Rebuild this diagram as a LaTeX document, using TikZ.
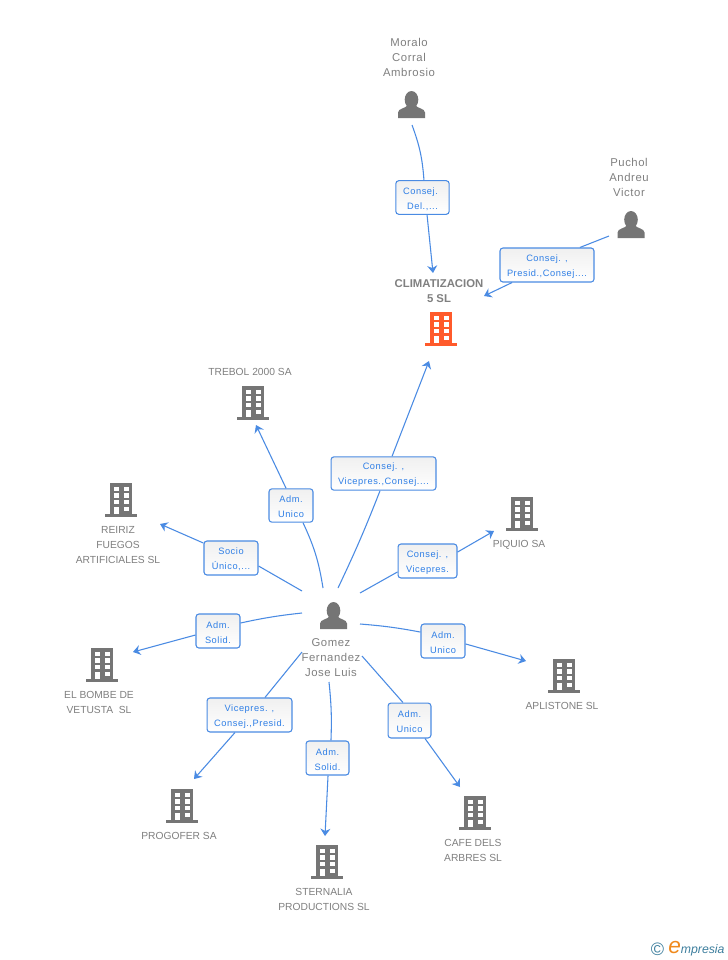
\documentclass[tikz,border=0pt]{standalone}
\usepackage{fontspec}
\setmainfont{Liberation Sans}
\newfontfamily\lblfont[LetterSpace=6]{Liberation Sans}
\newfontfamily\persfont[LetterSpace=5]{Liberation Sans}
\usetikzlibrary{arrows.meta}
\definecolor{edgeblue}{HTML}{4A8BE3}
\definecolor{lbltext}{HTML}{2F7FE6}
\definecolor{ent}{HTML}{808080}
\definecolor{icon}{HTML}{757575}
\definecolor{hot}{HTML}{FF5A2B}
\definecolor{logoblue}{HTML}{3E7F9E}
\definecolor{logoorange}{HTML}{F08A1D}
\tikzset{
  x=0.75pt,y=-0.75pt,
  lbl/.style={draw=edgeblue,line width=0.8pt,rounded corners=2.2pt,top color=black!6,bottom color=white,
    text=lbltext,font=\lblfont\fontsize{6.95}{11.25}\selectfont,align=center,inner sep=0pt,
    text height=18.6pt},
  enttext/.style={text=ent,font=\fontsize{7.7}{11.25}\selectfont,align=center,inner sep=0pt},
  perstext/.style={text=ent,font=\persfont\fontsize{8.5}{11.25}\selectfont,align=center,inner sep=0pt},
  edge/.style={draw=edgeblue,line width=0.8pt},
  arr/.style={edge,-{Stealth[length=5.5pt,width=7.5pt,inset=1.8pt]}},
  pics/bldg/.style={code={
    \fill[#1] (-11,0) rectangle (11,31);
    \fill[#1] (-16,31) rectangle (16,33.6);
    \foreach \yy in {3.7,10.3,17,23.7}{
      \fill[white] (-7.3,\yy) rectangle +(5,4.2);
      \fill[white] (2.7,\yy) rectangle +(5,4.2);}
    \fill[white] (-7.3,23.7) rectangle +(5,7.3);
  }},
  pics/person/.style={code={
    \fill[icon] (0,8.7) ellipse (6.8 and 8.7);
    \fill[icon] (-13.5,27) -- (-13.5,21.5) .. controls (-13.5,17.5) and (-6,17.5) .. (-3.5,14)
      -- (3.5,14) .. controls (6,17.5) and (13.5,17.5) .. (13.5,21.5) -- (13.5,27) -- cycle;
  }},
}
\begin{document}
\begin{tikzpicture}
\useasboundingbox[fill=white] (0,0) rectangle (728,960);
% icons
\pic at (441,312) {bldg=hot};
\pic at (253,386) {bldg=icon};
\pic at (121,483) {bldg=icon};
\pic at (102,648) {bldg=icon};
\pic at (182,789) {bldg=icon};
\pic at (327,845) {bldg=icon};
\pic at (475,796) {bldg=icon};
\pic at (564,659) {bldg=icon};
\pic at (522,497) {bldg=icon};
\pic at (411.5,91) {person};
\pic at (631,211) {person};
\pic at (333.5,602) {person};
% entity names
\node[perstext] (tMoralo) at (409,57) {Moralo\\Corral\\Ambrosio};
\node[perstext] (tPuchol) at (629,177) {Puchol\\Andreu\\Victor};
\node[enttext,font=\bfseries\fontsize{8.5}{11.25}\selectfont] (tClimat) at (439,291) {CLIMATIZACION\\5 SL};
\node[enttext] (tTrebol) at (250,372) {TREBOL 2000 SA};
\node[enttext] (tReiriz) at (118,545) {REIRIZ\\FUEGOS\\ARTIFICIALES SL};
\node[enttext] (tBombe) at (99,702.5) {EL BOMBE DE\\VETUSTA\ \ SL};
\node[enttext] (tProgofer) at (179,836) {PROGOFER SA};
\node[enttext] (tSternalia) at (324,899.5) {STERNALIA\\PRODUCTIONS SL};
\node[enttext] (tCafe) at (473,850.5) {CAFE DELS\\ARBRES SL};
\node[enttext] (tAplistone) at (562,706) {APLISTONE SL};
\node[enttext] (tPiquio) at (519,544.5) {PIQUIO SA};
\node[perstext] (tGomez) at (331,658) {Gomez\\Fernandez\\Jose Luis};
% labels
\node[lbl,minimum width=40pt,minimum height=25.2pt] (l1) at (422.5,197.5) {Consej.\hspace*{3pt}\\Del.,...};
\node[lbl,minimum width=70.5pt,minimum height=25.5pt] (l2) at (547,265) {Consej. ,\\Presid.,Consej....};
\node[lbl,minimum width=78.7pt,minimum height=25pt] (l3) at (383.5,473.5) {Consej. ,\\Vicepres.,Consej....};
\node[lbl,minimum width=33pt,minimum height=25pt] (l4) at (291,505.5) {Adm.\\Unico};
\node[lbl,minimum width=40.5pt,minimum height=25.5pt] (l5) at (231,558) {Socio\\Único,...};
\node[lbl,minimum width=33pt,minimum height=25.5pt] (l6) at (218,631) {Adm.\\Solid.};
\node[lbl,minimum width=63.7pt,minimum height=25.5pt] (l7) at (249.5,715) {Vicepres. ,\\Consej.,Presid.};
\node[lbl,minimum width=32.2pt,minimum height=25.5pt] (l8) at (327.5,758) {Adm.\\Solid.};
\node[lbl,minimum width=32.2pt,minimum height=26.2pt] (l9) at (409.5,720.5) {Adm.\\Unico};
\node[lbl,minimum width=33pt,minimum height=25.5pt] (l10) at (443,641) {Adm.\\Unico};
\node[lbl,minimum width=44.2pt,minimum height=25.5pt] (l11) at (427.5,561) {Consej. ,\\Vicepres.};
% free connector ends
\coordinate (s1) at (412,125); \coordinate (e1) at (433,273);
\coordinate (s2) at (609,236); \coordinate (e2) at (484,296);
\coordinate (s3) at (338,588); \coordinate (e3) at (429,361);
\coordinate (s4) at (323,588); \coordinate (e4) at (256,425);
\coordinate (s5) at (302,591); \coordinate (e5) at (160,524);
\coordinate (s6) at (302,613); \coordinate (e6) at (133,652);
\coordinate (s7) at (302,652); \coordinate (e7) at (194,779);
\coordinate (s8) at (329,682); \coordinate (e8) at (325,836);
\coordinate (s9) at (362,656); \coordinate (e9) at (460,787);
\coordinate (s10) at (360,624); \coordinate (e10) at (526,661);
\coordinate (s11) at (360,593); \coordinate (e11) at (494,531);
% connectors
\draw[edge] (s1) to[bend left=8] ([xshift=1.1pt]l1.north);   \draw[arr] ([xshift=3.4pt]l1.south) -- (e1);
\draw[edge] (s2) -- ([xshift=24.7pt]l2.north);               \draw[arr] ([xshift=-26.2pt]l2.south) -- (e2);
\draw[edge] (s3) to[bend right=2] ([xshift=-2.6pt]l3.south); \draw[arr] ([xshift=6.4pt]l3.north) -- (e3);
\draw[edge] (s4) to[bend right=8] ([xshift=9pt]l4.south);    \draw[arr] ([xshift=-3.7pt]l4.north) -- (e4);
\draw[edge] (s5) -- ([yshift=-6pt]l5.east);                  \draw[arr] ([yshift=11.2pt]l5.west) -- (e5);
\draw[edge] (s6) to[bend right=3] ([yshift=6pt]l6.east);     \draw[arr] ([yshift=-3pt]l6.west) -- (e6);
\draw[edge] (s7) -- ([xshift=11.6pt]l7.north);               \draw[arr] ([xshift=-10.9pt]l7.south) -- (e7);
\draw[edge] (s8) to[bend left=4] ([xshift=2.6pt]l8.north);   \draw[arr] ([xshift=0.4pt]l8.south) -- (e8);
\draw[edge] (s9) -- ([xshift=-4.9pt]l9.north);               \draw[arr] ([xshift=11.6pt]l9.south) -- (e9);
\draw[edge] (s10) to[bend left=3] ([yshift=6.7pt]l10.west);  \draw[arr] ([yshift=-2.2pt]l10.east) -- (e10);
\draw[edge] (s11) -- ([yshift=-8.2pt]l11.west);              \draw[arr] ([yshift=6.7pt]l11.east) -- (e11);
% logo
\node[inner sep=0pt,text=logoblue,font=\fontsize{13.5}{14}\selectfont] (copyr) at (657.5,949) {\textcopyright};
\node[inner sep=0pt,anchor=base west,font=\itshape\fontsize{9.2}{11}\selectfont,text=logoblue] (logo) at (668,953)
  {{\color{logoorange}\fontsize{17}{15}\selectfont e}mpresia};
\end{tikzpicture}
\end{document}
